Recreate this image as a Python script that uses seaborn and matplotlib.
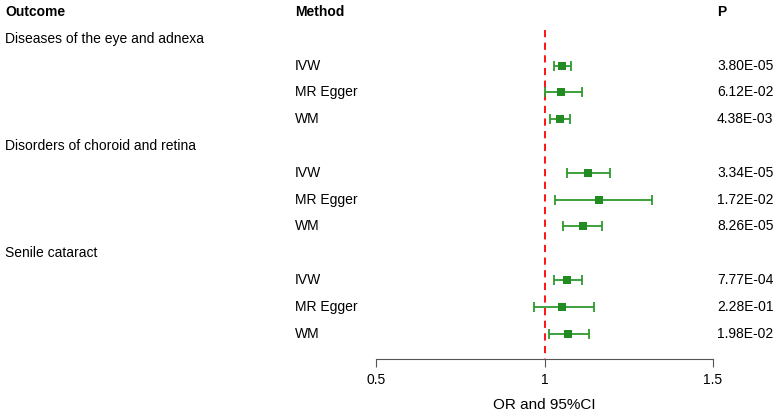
import numpy as np
import pandas as pd
import matplotlib
matplotlib.use("Agg")
import matplotlib.pyplot as plt
import matplotlib.transforms as mtransforms
import seaborn as sns

outcomes = ["Diseases of the eye and adnexa", "Disorders of choroid and retina", "Senile cataract"]
methods = ["IVW", "MR Egger", "WM"]
or_vals = [1.053, 1.050, 1.045, 1.128, 1.163, 1.113, 1.068, 1.053, 1.069]
ci_low = [1.027, 1.000, 1.015, 1.068, 1.030, 1.056, 1.029, 0.969, 1.014]
ci_high = [1.080, 1.110, 1.077, 1.193, 1.318, 1.172, 1.110, 1.146, 1.131]
p_vals = ["3.80E-05", "6.12E-02", "4.38E-03",
          "3.34E-05", "1.72E-02", "8.26E-05",
          "7.77E-04", "2.28E-01", "1.98E-02"]
x_ticks = [0.5, 1, 1.5]

sns.set_theme(style="white")
plt.rcParams["font.family"] = ["Liberation Sans", "DejaVu Sans"]
plt.rcParams["text.color"] = "black"
plt.rcParams["axes.labelcolor"] = "black"
plt.rcParams["xtick.color"] = "black"

# row positions: 0 = header, then outcome label followed by its methods
rows = []
r = 1
for o in outcomes:
    rows.append(("outcome", o, r))
    r += 1
    for m in methods:
        rows.append(("method", m, r))
        r += 1
method_rows = [x[2] for x in rows if x[0] == "method"]

df = pd.DataFrame({
    "row": method_rows,
    "OR": or_vals,
    "low": ci_low,
    "high": ci_high,
    "P": p_vals,
})

fig = plt.figure(figsize=(7.8, 4.16), dpi=100)
ax = fig.add_axes([376 / 780, 1 - 359 / 416, 337 / 780, 359 / 416])
ax.set_xlim(0.5, 1.5)
ax.set_ylim(12.95, -0.448)

green = "#228B22"
ax.errorbar(df["OR"], df["row"],
            xerr=[df["OR"] - df["low"], df["high"] - df["OR"]],
            fmt="none", ecolor="#2e9a2e", elinewidth=1.3, capsize=3.6, capthick=1.3, zorder=2)
sns.scatterplot(data=df, x="OR", y="row", marker="s", s=38, color=green,
                edgecolor=green, linewidth=0, ax=ax, zorder=3)
ax.plot([1, 1], [0.67, 12.95], color="red", linestyle=(0, (4, 3)), linewidth=1.3, zorder=1)

for side in ["top", "right", "left"]:
    ax.spines[side].set_visible(False)
ax.spines["bottom"].set_color("#555555")
ax.spines["bottom"].set_linewidth(0.8)
ax.set_yticks([])
ax.set_xticks(x_ticks)
ax.set_xticklabels(["0.5", "1", "1.5"])
ax.tick_params(axis="x", bottom=True, length=6, width=0.8, color="#555555",
               labelcolor="black", labelsize=10, pad=4)
ax.set_xlabel("OR and 95%CI", fontsize=11, labelpad=8, color="black")
ax.set_ylabel("")

trans = mtransforms.blended_transform_factory(fig.transFigure, ax.transData)
ax.text(5 / 780, 0, "Outcome", transform=trans, fontsize=10, fontweight="bold", va="center", ha="left")
ax.text(295 / 780, 0, "Method", transform=trans, fontsize=10, fontweight="bold", va="center", ha="left")
ax.text(717 / 780, 0, "P", transform=trans, fontsize=10, fontweight="bold", va="center", ha="left")
for kind, label, rr in rows:
    if kind == "outcome":
        ax.text(5 / 780, rr, label, transform=trans, fontsize=10, va="center", ha="left")
    else:
        ax.text(295 / 780, rr, label, transform=trans, fontsize=10, va="center", ha="left")
for rr, p in zip(df["row"], df["P"]):
    ax.text(717 / 780, rr, p, transform=trans, fontsize=10, va="center", ha="left")

fig.savefig("out.png", dpi=100)
